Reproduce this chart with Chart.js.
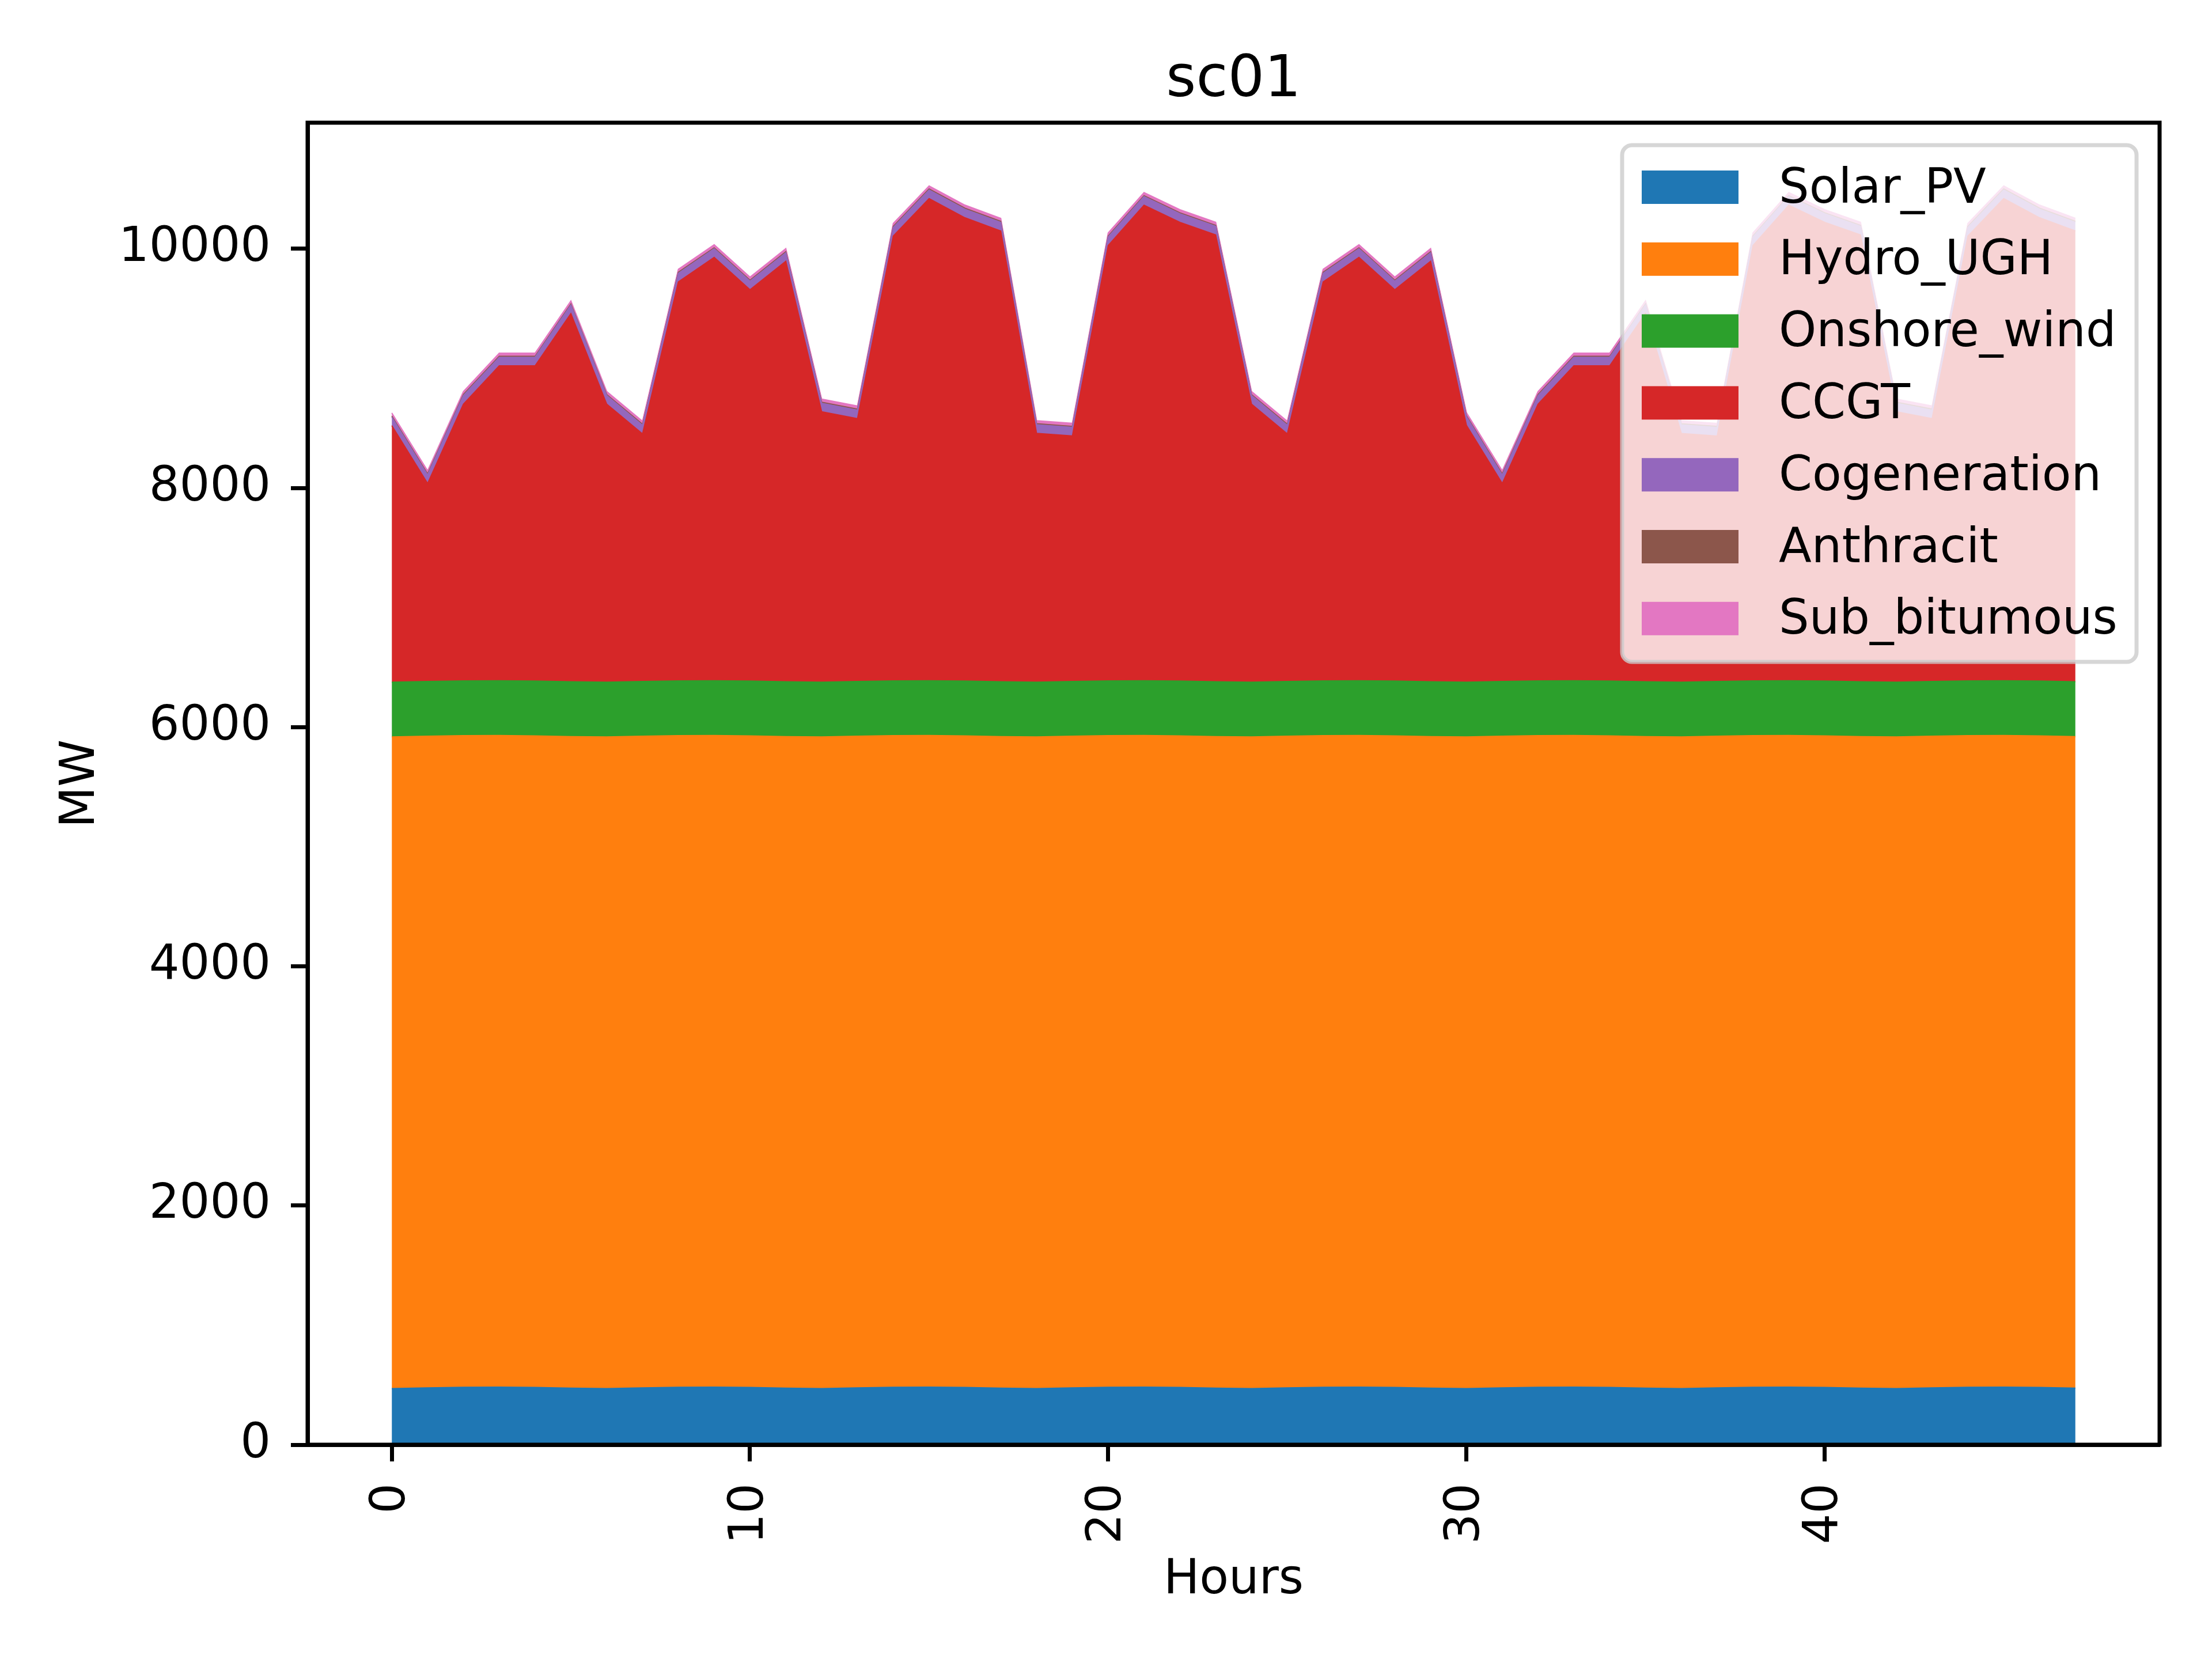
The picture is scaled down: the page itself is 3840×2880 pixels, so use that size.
<!DOCTYPE html>
<html>
<head>
<meta charset="utf-8">
<title>sc01</title>
<script src="https://cdn.jsdelivr.net/npm/chart.js@4.4.1/dist/chart.umd.min.js"></script>
<style>
  html, body { margin: 0; padding: 0; background: #ffffff; }
  canvas { display: block; }
</style>
</head>
<body>
<canvas id="dispatchChart" width="3840" height="2880"></canvas>
<script>
// hours on the x axis
const hours = [0, 1, 2, 3, 4, 5, 6, 7, 8, 9, 10, 11, 12, 13, 14, 15, 16, 17, 18, 19, 20, 21, 22, 23,
  24, 25, 26, 27, 28, 29, 30, 31, 32, 33, 34, 35, 36, 37, 38, 39, 40, 41, 42, 43, 44, 45, 46, 47];

// MW per technology
const solarPV = [470, 476, 481, 482, 479, 473, 470, 476, 481, 482, 479, 473, 470, 476, 481, 482, 479, 473, 470, 476, 481, 482, 479, 473,
  470, 476, 481, 482, 479, 473, 470, 476, 481, 482, 479, 473, 470, 476, 481, 482, 479, 473, 470, 476, 481, 482, 479, 473];
const hydroUGH = [5448, 5448, 5448, 5448, 5448, 5448, 5448, 5448, 5448, 5448, 5448, 5448, 5448, 5448, 5448, 5448, 5448, 5448, 5448, 5448, 5448, 5448, 5448, 5448,
  5448, 5448, 5448, 5448, 5448, 5448, 5448, 5448, 5448, 5448, 5448, 5448, 5448, 5448, 5448, 5448, 5448, 5448, 5448, 5448, 5448, 5448, 5448, 5448];
const onshoreWind = [458, 458, 458, 458, 458, 458, 458, 458, 458, 458, 458, 458, 458, 458, 458, 458, 458, 458, 458, 458, 458, 458, 458, 458,
  458, 458, 458, 458, 458, 458, 458, 458, 458, 458, 458, 458, 458, 458, 458, 458, 458, 458, 458, 458, 458, 458, 458, 458];
const ccgt = [2145, 1655, 2314, 2633, 2636, 3079, 2325, 2070, 3336, 3540, 3272, 3516, 2261, 2197, 3720, 4032, 3874, 3770, 2081, 2053, 3640, 3976, 3836, 3737,
  2325, 2070, 3336, 3540, 3272, 3516, 2148, 1655, 2314, 2633, 2636, 3079, 2080, 2052, 3640, 3976, 3836, 3737, 2261, 2197, 3720, 4032, 3874, 3770];
const cogeneration = [72, 72, 72, 72, 72, 72, 72, 72, 72, 72, 72, 72, 72, 72, 72, 72, 72, 72, 72, 72, 72, 72, 72, 72,
  72, 72, 72, 72, 72, 72, 72, 72, 72, 72, 72, 72, 72, 72, 72, 72, 72, 72, 72, 72, 72, 72, 72, 72];
const anthracit = [8, 8, 8, 8, 8, 8, 8, 8, 8, 8, 8, 8, 8, 8, 8, 8, 8, 8, 8, 8, 8, 8, 8, 8,
  8, 8, 8, 8, 8, 8, 8, 8, 8, 8, 8, 8, 8, 8, 8, 8, 8, 8, 8, 8, 8, 8, 8, 8];
const subBitumous = [26, 26, 26, 26, 26, 26, 26, 26, 26, 26, 26, 26, 26, 26, 26, 26, 26, 26, 26, 26, 26, 26, 26, 26,
  26, 26, 26, 26, 26, 26, 26, 26, 26, 26, 26, 26, 26, 26, 26, 26, 26, 26, 26, 26, 26, 26, 26, 26];

const seriesNames = ['Solar_PV', 'Hydro_UGH', 'Onshore_wind', 'CCGT', 'Cogeneration', 'Anthracit', 'Sub_bitumous'];
const seriesValues = [solarPV, hydroUGH, onshoreWind, ccgt, cogeneration, anthracit, subBitumous];
const seriesColors = ['#1f77b4', '#ff7f0e', '#2ca02c', '#d62728', '#9467bd', '#8c564b', '#e377c2'];

const xTickValues = [0, 10, 20, 30, 40];
const yTickValues = [0, 2000, 4000, 6000, 8000, 10000];

const FONT = 'DejaVu Sans';

const datasets = seriesNames.map(function(name, i) {
  return {
    label: name,
    data: hours.map(function(h, j) { return { x: h, y: seriesValues[i][j] }; }),
    backgroundColor: seriesColors[i],
    borderColor: seriesColors[i],
    borderWidth: 2,
    pointRadius: 0,
    tension: 0,
    fill: i === 0 ? 'origin' : '-1'
  };
});

// frame, title and legend box drawn on top like matplotlib does
const decorPlugin = {
  id: 'decor',
  afterDraw: function(chart) {
    const ctx = chart.ctx;
    const area = chart.chartArea;
    ctx.save();

    // spines
    ctx.strokeStyle = '#000000';
    ctx.lineWidth = 7;
    ctx.strokeRect(area.left, area.top, area.right - area.left, area.bottom - area.top);

    // title
    ctx.fillStyle = '#000000';
    ctx.font = '100px "' + FONT + '"';
    ctx.textAlign = 'center';
    ctx.textBaseline = 'alphabetic';
    ctx.fillText('sc01', (area.left + area.right) / 2, 167);

    // legend
    const box = { left: 2816, top: 252, right: 3709, bottom: 1149, r: 17 };
    ctx.beginPath();
    ctx.roundRect(box.left, box.top, box.right - box.left, box.bottom - box.top, box.r);
    ctx.fillStyle = 'rgba(255,255,255,0.8)';
    ctx.fill();
    ctx.lineWidth = 7;
    ctx.strokeStyle = 'rgba(204,204,204,0.8)';
    ctx.stroke();

    ctx.font = '83px "' + FONT + '"';
    ctx.textAlign = 'left';
    ctx.textBaseline = 'middle';
    chart.data.datasets.forEach(function(ds, i) {
      const cy = 325 + i * 124.8;
      ctx.fillStyle = ds.backgroundColor;
      ctx.fillRect(2850, cy - 29, 168, 58);
      ctx.fillStyle = '#000000';
      ctx.fillText(ds.label, 3088, cy + 5);
    });

    ctx.restore();
  }
};

const chart = new Chart(document.getElementById('dispatchChart'), {
  type: 'line',
  data: { datasets: datasets },
  options: {
    responsive: false,
    animation: false,
    devicePixelRatio: 1,
    layout: { padding: { top: 213, right: 91, left: 0, bottom: 0 } },
    plugins: {
      legend: { display: false },
      title: { display: false },
      tooltip: { enabled: false }
    },
    scales: {
      x: {
        type: 'linear',
        min: -2.35,
        max: 49.35,
        afterBuildTicks: function(axis) {
          axis.ticks = xTickValues.map(function(v) { return { value: v }; });
        },
        afterFit: function(axis) { axis.height = 372; },
        ticks: {
          color: '#000000',
          font: { family: FONT, size: 83 },
          padding: 38,
          minRotation: 90,
          maxRotation: 90,
          callback: function(v) { return String(v); }
        },
        grid: { drawOnChartArea: false, drawTicks: true, tickLength: 29, tickWidth: 7, tickColor: '#000000' },
        border: { display: true, color: '#000000', width: 7 },
        title: {
          display: true,
          text: 'Hours',
          color: '#000000',
          font: { family: FONT, size: 83 },
          padding: { top: 0, bottom: 86 }
        }
      },
      y: {
        stacked: true,
        min: 0,
        max: 11054,
        afterBuildTicks: function(axis) {
          axis.ticks = yTickValues.map(function(v) { return { value: v }; });
        },
        afterFit: function(axis) { axis.width = 534; },
        ticks: {
          color: '#000000',
          font: { family: FONT, size: 83 },
          padding: 35,
          callback: function(v) { return String(v); }
        },
        grid: { drawOnChartArea: false, drawTicks: true, tickLength: 29, tickWidth: 7, tickColor: '#000000' },
        border: { display: true, color: '#000000', width: 7 },
        title: {
          display: true,
          text: 'MW',
          color: '#000000',
          font: { family: FONT, size: 83 },
          padding: { top: 92, bottom: 0 }
        }
      }
    }
  },
  plugins: [decorPlugin]
});
</script>
</body>
</html>
